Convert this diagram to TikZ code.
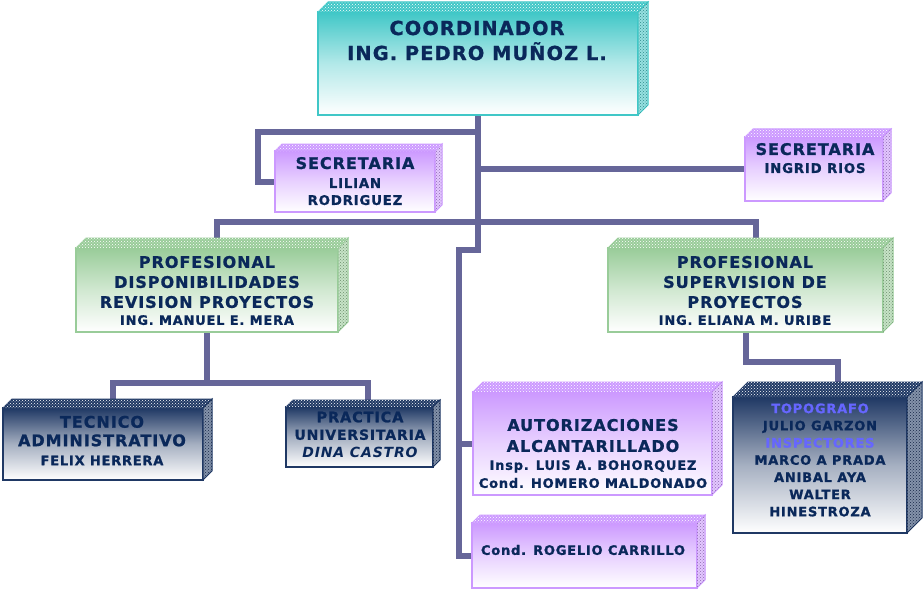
\documentclass[tikz,border=0pt]{standalone}
\usepackage{fontspec}
\setmainfont{DejaVu Sans}[LetterSpace=6,BoldFeatures={FakeBold=1.1}]
\usepackage{tikz}
\usetikzlibrary{backgrounds,patterns}

\definecolor{turq}{RGB}{64,199,199}
\definecolor{lila}{RGB}{204,153,255}
\definecolor{verde}{RGB}{153,204,153}
\definecolor{marino}{RGB}{31,56,100}
\definecolor{linea}{RGB}{102,102,153}
\definecolor{letra}{RGB}{10,40,90}
\definecolor{celeste}{RGB}{102,102,255}

\newcommand{\tam}[2]{\fontsize{#1}{#2}\selectfont}
% caras superior y lateral de una caja
\newcommand{\caras}[3]{%
  \filldraw[fill=#3, draw=#3, line width=1pt, postaction={pattern=crosshatch dots, pattern color=white}]
    (#1.north west) -- ++(#2,-#2) -- ([shift={(#2,-#2)}]#1.north east) -- (#1.north east) -- cycle;
  \filldraw[fill=#3!55!white, draw=#3, line width=1pt, postaction={pattern=crosshatch dots, pattern color=#3!70!black}]
    (#1.north east) -- ++(#2,-#2) -- ([shift={(#2,-#2)}]#1.south east) -- (#1.south east) -- cycle;
}

\tikzset{
  caja/.style={line width=1.5pt, inner sep=0pt, outer sep=0pt},
  cajaturq/.style={caja, draw=turq, top color=turq, bottom color=white, middle color=turq!40!white},
  cajalila/.style={caja, draw=lila, top color=lila, bottom color=white, middle color=lila!45!white},
  cajaverde/.style={caja, draw=verde, top color=verde, bottom color=white, middle color=verde!45!white},
  cajamarino/.style={caja, line width=2pt, draw=marino, top color=marino, bottom color=white, middle color=marino!40!white},
  rotulo/.style={text=letra, align=center, inner sep=0pt},
  conector/.style={draw=linea, line width=6pt},
}

\begin{document}
\begin{tikzpicture}[x=1pt,y=-1pt]
\useasboundingbox (0,0) rectangle (923,591);

% cajas
\node[cajaturq, minimum width=320pt, minimum height=103pt] (coord) at (478,63.5) {};
\caras{coord}{10}{turq}
\node[cajalila, minimum width=160pt, minimum height=61pt] (lilian) at (355,181.5) {};
\caras{lilian}{7}{lila}
\node[cajalila, minimum width=138pt, minimum height=64pt] (ingrid) at (814,169) {};
\caras{ingrid}{8}{lila}
\node[cajaverde, minimum width=262pt, minimum height=84pt] (verdeizq) at (207,290) {};
\caras{verdeizq}{10}{verde}
\node[cajaverde, minimum width=275pt, minimum height=84pt] (verdeder) at (745.5,290) {};
\caras{verdeder}{10}{verde}
\node[cajamarino, minimum width=200pt, minimum height=72pt] (tecnico) at (103,444) {};
\caras{tecnico}{9}{marino}
\node[cajamarino, minimum width=147pt, minimum height=60pt] (practica) at (359.5,437) {};
\caras{practica}{7}{marino}
\node[cajalila, minimum width=239pt, minimum height=103pt] (autoriz) at (592.5,443.5) {};
\caras{autoriz}{10}{lila}
\node[cajalila, minimum width=225pt, minimum height=65pt] (rogelio) at (584.5,555.5) {};
\caras{rogelio}{8}{lila}
\node[cajamarino, minimum width=174pt, minimum height=136pt] (azul) at (820,465) {};
\caras{azul}{15}{marino}

% textos
\node[rotulo, font=\bfseries\tam{19.3}{25}] (coordtxt) at (477,40.5) {COORDINADOR\\ING. PEDRO MUÑOZ L.};
\node[rotulo, font=\bfseries\tam{13.3}{17}] (liliantxt) at (355,181.1) {{\tam{16}{17}SECRETARIA}\\[2pt]LILIAN\\RODRIGUEZ};
\node[rotulo, font=\bfseries\tam{13.3}{18}] (ingridtxt) at (815,158.1) {{\tam{16}{18}SECRETARIA}\\INGRID RIOS};
\node[rotulo, font=\bfseries\tam{16}{20}] (verdeizqtxt) at (207,290.5) {PROFESIONAL\\DISPONIBILIDADES\\REVISION PROYECTOS\\[-3pt]{\tam{13}{20}ING. MANUEL E. MERA}};
\node[rotulo, font=\bfseries\tam{16}{20}] (verdedertxt) at (745,290.5) {PROFESIONAL\\SUPERVISION DE\\PROYECTOS\\[-3pt]{\tam{13}{20}ING. ELIANA M. URIBE}};
\node[rotulo, font=\bfseries\tam{16}{18.5}] (tecnicotxt) at (102,440.5) {TECNICO\\ADMINISTRATIVO\\[0.5pt]{\tam{13}{18}FELIX HERRERA}};
\node[rotulo, font=\bfseries\tam{14}{17.5}] (practicatxt) at (360,434.5) {{\tam{14.5}{17.5}PRACTICA}\\UNIVERSITARIA\\{\itshape DINA CASTRO}};
\node[rotulo, font=\bfseries\tam{13}{18}] (autoriztxt) at (593,453.5) {{\tam{16}{18}AUTORIZACIONES}\\[3pt]{\tam{16}{18}ALCANTARILLADO}\\Insp. LUIS A. BOHORQUEZ\\Cond. HOMERO MALDONADO};
\node[rotulo, font=\bfseries\tam{13}{17}] (rogeliotxt) at (583,550) {Cond. ROGELIO CARRILLO};
\node[rotulo, font=\bfseries\tam{13}{17.2}] (azultxt) at (820,460) {{\color{celeste}TOPOGRAFO}\\JULIO GARZON\\{\color{celeste}INSPECTORES}\\MARCO A PRADA\\ANIBAL AYA\\WALTER\\HINESTROZA};

% conectores
\begin{scope}[on background layer]
\fill[white] (0,0) rectangle (923,591);
\coordinate (tronco) at (459,250);
\draw[conector] (coord.south) |- (tronco) |- (rogelio.west);
\draw[conector] (autoriz.west) -- (autoriz.west -| tronco);
\draw[conector] (ingrid.west) -- (ingrid.west -| coord.south);
\draw[conector] (coord.south) ++(0,17) -- ++(-220,0) |- (lilian.west);
\draw[conector] ([xshift=10pt]verdeizq.north) -- ++(0,-26) -| ([xshift=10pt]verdeder.north);
\draw[conector] (verdeizq.south) -- ++(0,51) coordinate (bifiz);
\draw[conector] ([xshift=10pt]tecnico.north) |- (bifiz) -| ([xshift=8pt]practica.north);
\draw[conector] (verdeder.south) -- ++(0,30) -| ([xshift=18pt]azul.north);
\end{scope}
\end{tikzpicture}
\end{document}
